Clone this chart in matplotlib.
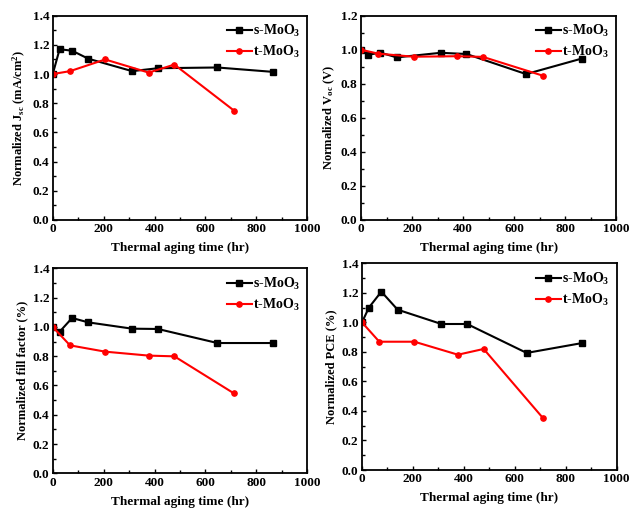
import matplotlib
matplotlib.use("Agg")
import matplotlib.pyplot as plt
from matplotlib.ticker import MultipleLocator

plt.rcParams['font.family'] = ['Liberation Serif', 'DejaVu Serif']
plt.rcParams['font.weight'] = 'bold'
plt.rcParams['mathtext.fontset'] = 'custom'
plt.rcParams['mathtext.rm'] = 'Liberation Serif:bold'
plt.rcParams['mathtext.it'] = 'Liberation Serif:bold'
plt.rcParams['mathtext.bf'] = 'Liberation Serif:bold'

# Data
s_time = [0, 27, 76, 140, 312, 413, 647, 865]
t_time = [0, 68, 206, 377, 478, 712]

s_jsc = [1.00, 1.17, 1.16, 1.105, 1.02, 1.04, 1.045, 1.015]
t_jsc = [1.00, 1.02, 1.10, 1.01, 1.065, 0.75]

s_voc = [1.00, 0.97, 0.983, 0.955, 0.982, 0.975, 0.857, 0.948]
t_voc = [1.00, 0.977, 0.959, 0.962, 0.958, 0.848]

s_ff = [1.00, 0.967, 1.061, 1.031, 0.988, 0.986, 0.890, 0.890]
t_ff = [1.00, 0.874, 0.831, 0.804, 0.799, 0.546]

s_pce = [1.00, 1.10, 1.208, 1.086, 0.989, 0.989, 0.793, 0.860]
t_pce = [1.00, 0.869, 0.869, 0.781, 0.820, 0.350]

labels = ['s-MoO$_3$', 't-MoO$_3$']
xlabel = 'Thermal aging time (hr)'

panels = [
    ([0.0837, 0.5695, 0.404, 0.3998], s_jsc, t_jsc, 'Normalized J$_{sc}$ (mA/cm$^{2}$)', 1.4),
    ([0.573, 0.5695, 0.405, 0.3998], s_voc, t_voc, 'Normalized V$_{oc}$ (V)', 1.2),
    ([0.0837, 0.0738, 0.404, 0.401], s_ff, t_ff, 'Normalized fill factor (%)', 1.4),
    ([0.5746, 0.0802, 0.404, 0.4045], s_pce, t_pce, 'Normalized PCE (%)', 1.4),
]

fig = plt.figure(figsize=(6.3, 5.11), dpi=100)
for rect, s_vals, t_vals, ylab, ymax in panels:
    ax = fig.add_axes(rect)
    ax.plot(s_time, s_vals, color='black', marker='s', markersize=3.8, lw=1.5, label=labels[0])
    ax.plot(t_time, t_vals, color='red', marker='o', markersize=3.8, lw=1.5, label=labels[1])
    ax.set_xlim(0, 1000)
    ax.set_ylim(0, ymax)
    ax.xaxis.set_major_locator(MultipleLocator(200))
    ax.xaxis.set_minor_locator(MultipleLocator(100))
    ax.yaxis.set_major_locator(MultipleLocator(0.2))
    ax.yaxis.set_minor_locator(MultipleLocator(0.1))
    ax.yaxis.set_major_formatter(matplotlib.ticker.FormatStrFormatter('%.1f'))
    ax.tick_params(which='both', direction='in', top=False, right=False, labelsize=9.5, pad=2.5)
    ax.tick_params(which='major', length=3, width=1)
    ax.tick_params(which='minor', length=2, width=1)
    for sp in ax.spines.values():
        sp.set_linewidth(1.3)
    ax.set_xlabel(xlabel, fontsize=9.5, fontweight='bold', labelpad=5)
    ax.set_ylabel(ylab, fontsize=9, fontweight='bold', labelpad=3)
    for lab in ax.get_xticklabels() + ax.get_yticklabels():
        lab.set_fontweight('bold')
    ax.legend(loc='upper right', frameon=False, fontsize=10, handlelength=1.8,
              handletextpad=0.1, borderaxespad=0.0, borderpad=0.3, labelspacing=0.35,
              bbox_to_anchor=(0.99, 0.985))

fig.savefig('out.png', dpi=100)
